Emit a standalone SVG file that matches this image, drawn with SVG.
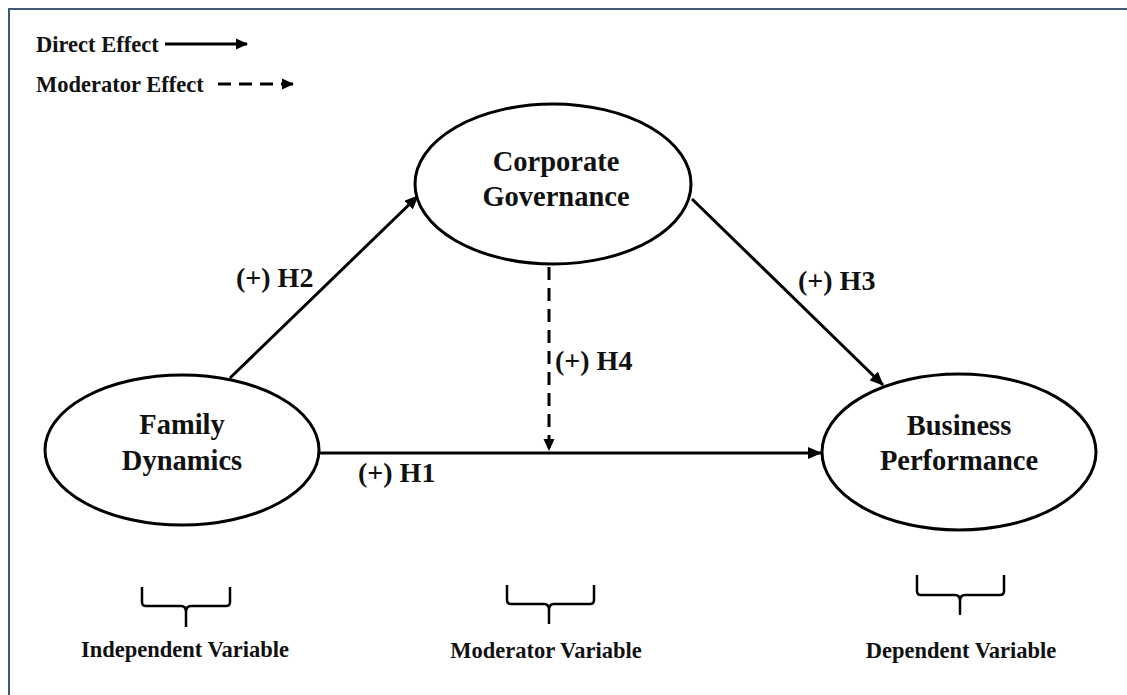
<svg xmlns="http://www.w3.org/2000/svg" width="1127" height="695" viewBox="0 0 1127 695">
  <defs>
    <marker id="ah" markerUnits="userSpaceOnUse" markerWidth="14" markerHeight="12" refX="13" refY="6" orient="auto">
      <path d="M0,0 L14,6 L0,12 Z" fill="#000"/>
    </marker>
    <marker id="ahs" markerUnits="userSpaceOnUse" markerWidth="12" markerHeight="12" refX="11" refY="6" orient="auto">
      <path d="M0,0.5 L12,6 L0,11.5 Z" fill="#000"/>
    </marker>
  </defs>
  <style>
    .node { fill: #fff; stroke: #000; stroke-width: 3; }
    .lbl { font-family: "Liberation Serif", "Times New Roman", serif; font-weight: bold; font-size: 28.5px; fill: #111; text-anchor: middle; }
    .hyp { font-family: "Liberation Serif", "Times New Roman", serif; font-weight: bold; font-size: 28px; fill: #111; }
    .small { font-family: "Liberation Serif", "Times New Roman", serif; font-weight: bold; font-size: 22.5px; fill: #111; }
    .edge { stroke: #000; stroke-width: 3; fill: none; }
    .dash { stroke: #000; stroke-width: 3; fill: none; stroke-dasharray: 13 8; }
    .brace { stroke: #000; stroke-width: 2.5; fill: none; }
  </style>
  <rect x="0" y="0" width="1127" height="695" fill="#fff"/>
  <rect x="9" y="9" width="1140" height="720" fill="none" stroke="#3f5a75" stroke-width="2"/>

  <g id="legend">
    <text class="small" x="36" y="52">Direct Effect</text>
    <line class="edge" x1="165" y1="44" x2="247" y2="44" marker-end="url(#ahs)"/>
    <text class="small" x="36" y="92">Moderator Effect</text>
    <line class="dash" x1="218" y1="84" x2="293" y2="84" stroke-dasharray="12 8" marker-end="url(#ahs)"/>
  </g>

  <g id="connectors">
    <line class="edge" x1="320" y1="453" x2="821" y2="453" marker-end="url(#ah)"/>
    <line class="edge" x1="230" y1="378" x2="418" y2="196" marker-end="url(#ah)"/>
    <line class="edge" x1="692" y1="199" x2="883" y2="385" marker-end="url(#ah)"/>
    <line class="dash" x1="549" y1="267" x2="549" y2="450" marker-end="url(#ahs)"/>
  </g>

  <g id="corporate-governance">
    <ellipse class="node" cx="553" cy="184" rx="138" ry="80"/>
    <text class="lbl" x="556" y="171">Corporate</text>
    <text class="lbl" x="556" y="206">Governance</text>
  </g>

  <g id="family-dynamics">
    <ellipse class="node" cx="182" cy="450" rx="137" ry="75"/>
    <text class="lbl" x="182" y="434">Family</text>
    <text class="lbl" x="182" y="470">Dynamics</text>
  </g>

  <g id="business-performance">
    <ellipse class="node" cx="959" cy="452" rx="137" ry="78"/>
    <text class="lbl" x="959" y="435">Business</text>
    <text class="lbl" x="959" y="470">Performance</text>
  </g>

  <g id="hypotheses">
    <text class="hyp" x="236" y="287">(+) H2</text>
    <text class="hyp" x="798" y="290">(+) H3</text>
    <text class="hyp" x="555" y="370">(+) H4</text>
    <text class="hyp" x="358" y="482">(+) H1</text>
  </g>

  <g id="independent-variable">
    <path class="brace" d="M142,587 V602 Q142,606 146,606 H181 Q186,606 186,612 V627 M186,612 Q186,606 191,606 H226 Q230,606 230,602 V587"/>
    <text class="small" x="185" y="657" text-anchor="middle">Independent Variable</text>
  </g>

  <g id="moderator-variable">
    <path class="brace" d="M507,585 V600 Q507,604 511,604 H544 Q549,604 549,610 V624 M549,610 Q549,604 554,604 H590 Q594,604 594,600 V585"/>
    <text class="small" x="546" y="658" text-anchor="middle">Moderator Variable</text>
  </g>

  <g id="dependent-variable">
    <path class="brace" d="M917,575 V591 Q917,595 921,595 H955 Q960,595 960,601 V615 M960,601 Q960,595 965,595 H1000 Q1004,595 1004,591 V575"/>
    <text class="small" x="961" y="658" text-anchor="middle">Dependent Variable</text>
  </g>
</svg>
